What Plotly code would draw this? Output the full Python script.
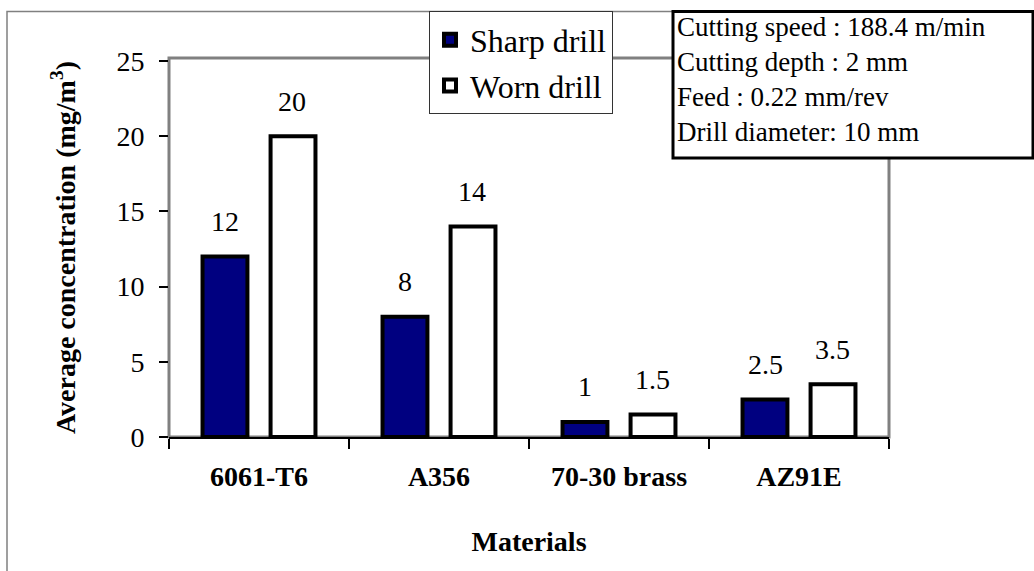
import plotly.graph_objects as go

# ---- data ----
materials = ["6061-T6", "A356", "70-30 brass", "AZ91E"]
sharp_drill = [12, 8, 1, 2.5]
worn_drill = [20, 14, 1.5, 3.5]
series_names = ["Sharp drill", "Worn drill"]
y_ticks = [0, 5, 10, 15, 20, 25]
conditions = [
    "Cutting speed : 188.4 m/min",
    "Cutting depth : 2 mm",
    "Feed : 0.22 mm/rev",
    "Drill diameter: 10 mm",
]

FONT = "Liberation Serif, Times New Roman, serif"
W, H = 1034, 571
ML, MR, MT, MB = 169, 145, 54, 134
PW, PH = W - ML - MR, H - MT - MB


def px_x(p):
    return (p - ML) / PW


def px_y(p):
    return (H - MB - p) / PH


fig = go.Figure()
fig.add_bar(
    x=materials, y=sharp_drill, name=series_names[0], legendgroup="a",
    marker=dict(color="#000080", line=dict(color="black", width=4)),
)
fig.add_bar(
    x=materials, y=worn_drill, name=series_names[1], legendgroup="b",
    marker=dict(color="white", line=dict(color="black", width=4)),
)

for vals, shift in ((sharp_drill, -34), (worn_drill, 33)):
    for m, v in zip(materials, vals):
        fig.add_annotation(
            x=m, y=v, text=f"{v:g}", xshift=shift, yshift=35,
            yanchor="middle", xanchor="center", showarrow=False,
            font=dict(family=FONT, size=28, color="black"),
        )

# conditions text box
fig.add_shape(
    type="rect", xref="paper", yref="paper",
    x0=px_x(673), x1=px_x(1033), y0=px_y(155), y1=px_y(7),
    line=dict(color="black", width=3), fillcolor="white", layer="above",
)
fig.add_annotation(
    xref="paper", yref="paper", x=px_x(675), y=px_y(5),
    xanchor="left", yanchor="top", align="left", showarrow=False,
    text="<br>".join(conditions),
    font=dict(family=FONT, size=27, color="black"),
)

# plot frame (gray) and outer frame
fig.add_shape(
    type="rect", xref="paper", yref="paper", x0=0, x1=1, y0=0, y1=1,
    line=dict(color="#808080", width=3), layer="below",
)
fig.add_shape(
    type="rect", xref="paper", yref="paper",
    x0=px_x(7), x1=px_x(1100), y0=px_y(650), y1=px_y(7),
    line=dict(color="#808080", width=1.5), layer="below",
)

fig.update_layout(
    width=W, height=H,
    margin=dict(l=ML, r=MR, t=MT, b=MB),
    paper_bgcolor="white", plot_bgcolor="white",
    barmode="group", bargap=0.244, bargroupgap=0.34,
    font=dict(family=FONT, color="black"),
    showlegend=True,
    legend=dict(
        x=px_x(429), y=px_y(7), xanchor="left", yanchor="top",
        bgcolor="white", bordercolor="#333333", borderwidth=1,
        font=dict(family=FONT, size=32, color="black"),
        tracegroupgap=1,
    ),
    xaxis=dict(
        type="category", range=[-0.5, 3.5],
        tickson="boundaries", ticks="outside", ticklen=10,
        tickcolor="black", tickwidth=1.5,
        showline=True, linecolor="black", linewidth=1.5,
        showgrid=False, zeroline=False,
        tickfont=dict(family=FONT, size=28, weight="bold"),
        ticklabelstandoff=14,
        title=dict(text="Materials", standoff=40,
                   font=dict(family=FONT, size=28, weight="bold")),
    ),
    yaxis=dict(
        range=[0, 25.2], tickvals=y_ticks, ticks="outside", ticklen=9,
        tickcolor="black", tickwidth=1.5,
        showline=False, showgrid=False, zeroline=False,
        tickfont=dict(family=FONT, size=28),
        ticklabelstandoff=9,
        title=dict(text="Average concentration (mg/m<sup>3</sup>)", standoff=32,
                   font=dict(family=FONT, size=28, weight="bold")),
    ),
)

fig.write_html(
    "out.html",
    config={"displayModeBar": False},
    post_script="document.body.style.margin='0';document.body.style.padding='0';",
)
